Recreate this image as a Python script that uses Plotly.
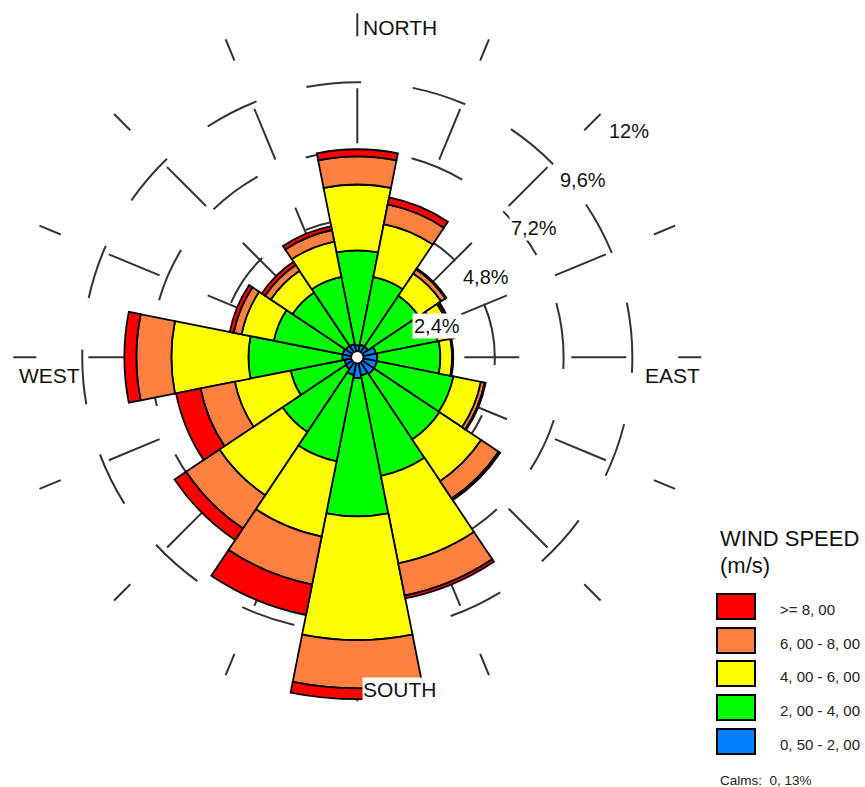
import math
import plotly.graph_objects as go

# ---- data -------------------------------------------------------------
directions = ["N", "NNE", "NE", "ENE", "E", "ESE", "SE", "SSE",
              "S", "SSW", "SW", "WSW", "W", "WNW", "NW", "NNW"]

# frequency (%) per direction for each wind-speed class
speed_05_2 = [0.42, 0.45, 0.45, 0.66, 0.70, 0.70, 0.70, 0.65,
              0.73, 0.63, 0.49, 0.46, 0.52, 0.52, 0.49, 0.47]
speed_2_4 = [3.31, 2.41, 2.13, 2.20, 2.20, 2.72, 2.75, 3.57,
             4.82, 3.07, 2.65, 1.91, 3.28, 2.45, 2.23, 2.39]
speed_4_6 = [2.30, 1.88, 0.94, 0.49, 0.41, 0.98, 1.75, 3.11,
             4.32, 2.68, 2.65, 1.99, 2.69, 1.15, 0.91, 1.26]
speed_6_8 = [0.98, 0.70, 0.18, 0.07, 0.02, 0.13, 0.73, 1.15,
             1.68, 1.71, 1.40, 1.22, 1.22, 0.28, 0.24, 0.41]
speed_8_up = [0.25, 0.25, 0.04, 0.03, 0.02, 0.04, 0.07, 0.10,
              0.38, 1.08, 0.48, 0.87, 0.42, 0.14, 0.14, 0.14]

class_labels = ["0, 50 - 2, 00", "2, 00 - 4, 00", "4, 00 - 6, 00",
                "6, 00 - 8, 00", ">= 8, 00"]
class_colors = ["#0080FF", "#00FF00", "#FFFF00", "#FF8040", "#FF0000"]
series = [speed_05_2, speed_2_4, speed_4_6, speed_6_8, speed_8_up]

ring_values = [2.4, 4.8, 7.2, 9.6, 12.0]
ring_labels = ["2,4%", "4,8%", "7,2%", "9,6%", "12%"]
calms_text = "Calms:  0, 13%"

# ---- geometry (pixels) -------------------------------------------------
W, H = 865, 787
CX, CY, R = 357.3, 357.3, 344.0
R_MAX = 12.0


def px(x):
    return x / W


def py(y):
    return 1 - y / H


FONT = "Liberation Sans, Arial, sans-serif"
GRID = "#333333"

fig = go.Figure()

for vals, name, col in zip(series, class_labels, class_colors):
    fig.add_trace(go.Barpolar(
        r=vals, theta=directions, name=name,
        marker=dict(color=col, line=dict(color="black", width=1.8)),
        showlegend=False,
    ))

# white calm circle at the centre
fig.add_trace(go.Scatterpolar(
    r=[0], theta=["N"], mode="markers",
    marker=dict(size=12, color="white", line=dict(color="black", width=1.5)),
    showlegend=False, hoverinfo="skip",
))

fig.update_layout(
    width=W, height=H,
    margin=dict(l=0, r=0, t=0, b=0),
    paper_bgcolor="white",
    plot_bgcolor="white",
    polar=dict(
        domain=dict(x=[px(CX - R), px(CX + R)], y=[py(CY + R), py(CY - R)]),
        bgcolor="white",
        bargap=0,
        barmode="stack",
        radialaxis=dict(
            range=[0, R_MAX * 1.0005], tickvals=ring_values,
            showticklabels=False, ticks="", showline=False,
            gridcolor=GRID, gridwidth=2, griddash="55px,52px",
        ),
        angularaxis=dict(
            type="category", categoryarray=directions,
            rotation=90, direction="clockwise",
            showticklabels=False, ticks="", showline=False,
            gridcolor=GRID, gridwidth=2, griddash="55px,52px",
        ),
    ),
)

annotations = []

# compass labels
for text, x, y, bg in [("NORTH", 362, 28, None), ("EAST", 644, 375, None),
                       ("WEST", 18, 375, None), ("SOUTH", 362, 689, "white")]:
    annotations.append(dict(
        text=text, x=px(x), y=py(y), xref="paper", yref="paper",
        xanchor="left", yanchor="middle", showarrow=False,
        font=dict(family=FONT, size=21, color="#111"),
        bgcolor=bg, borderpad=0,
    ))

# ring labels along the 45 degree direction
for v, lab in zip(ring_values, ring_labels):
    rp = v / R_MAX * R
    x = CX + rp * math.cos(math.radians(45)) + 6
    y = CY - rp * math.sin(math.radians(45)) + 17
    annotations.append(dict(
        text=lab, x=px(x), y=py(y), xref="paper", yref="paper",
        xanchor="left", yanchor="middle", showarrow=False,
        font=dict(family=FONT, size=20, color="#111"),
        bgcolor="white", borderpad=1,
    ))

# legend
annotations.append(dict(
    text="WIND SPEED", x=px(718), y=py(538), xref="paper", yref="paper",
    xanchor="left", yanchor="middle", showarrow=False,
    font=dict(family=FONT, size=22, color="#111")))
annotations.append(dict(
    text="(m/s)", x=px(718), y=py(565), xref="paper", yref="paper",
    xanchor="left", yanchor="middle", showarrow=False,
    font=dict(family=FONT, size=22, color="#111")))

shapes = []
box_top = [594, 628, 661, 695, 729]
for top, lab, col in zip(box_top, class_labels[::-1], class_colors[::-1]):
    shapes.append(dict(
        type="rect", xref="paper", yref="paper",
        x0=px(717), x1=px(755), y0=py(top + 25), y1=py(top),
        fillcolor=col, line=dict(color="black", width=2),
    ))
    annotations.append(dict(
        text=lab, x=px(778), y=py(top + 15), xref="paper", yref="paper",
        xanchor="left", yanchor="middle", showarrow=False,
        font=dict(family=FONT, size=15, color="#222")))

annotations.append(dict(
    text=calms_text, x=px(718), y=py(780), xref="paper", yref="paper",
    xanchor="left", yanchor="middle", showarrow=False,
    font=dict(family=FONT, size=13.5, color="#222")))

fig.update_layout(annotations=annotations, shapes=shapes)

fig.write_html("out.html")
